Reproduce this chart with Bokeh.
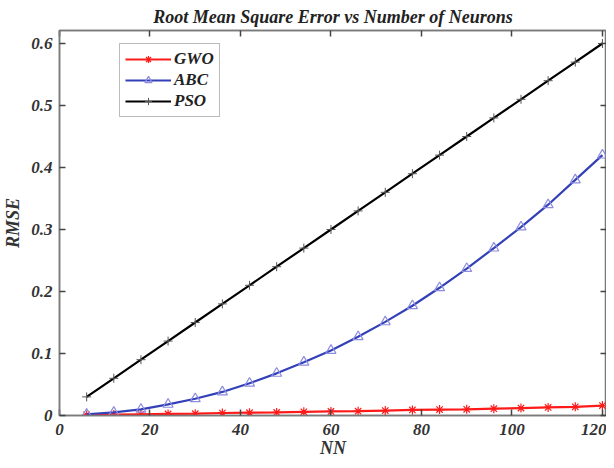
from bokeh.plotting import figure
from bokeh.models import LinearAxis, Range1d, FixedTicker, Legend, LegendItem
from bokeh.embed import file_html
from bokeh.resources import INLINE

nn = [6, 12, 18, 24, 30, 36, 42, 48, 54, 60, 66, 72, 78, 84, 90, 96, 102, 108, 114, 120]
gwo = [0.001, 0.0015, 0.002, 0.0025, 0.003, 0.004, 0.0045, 0.005, 0.006, 0.0065,
       0.007, 0.008, 0.009, 0.0095, 0.010, 0.011, 0.012, 0.013, 0.014, 0.016]
abc = [0.002, 0.005, 0.010, 0.018, 0.027, 0.038, 0.052, 0.068, 0.086, 0.105,
       0.127, 0.151, 0.177, 0.206, 0.237, 0.270, 0.304, 0.340, 0.380, 0.420]
pso = [0.03, 0.06, 0.09, 0.12, 0.15, 0.18, 0.21, 0.24, 0.27, 0.30,
       0.33, 0.36, 0.39, 0.42, 0.45, 0.48, 0.51, 0.54, 0.57, 0.60]
x_ticks = [0, 20, 40, 60, 80, 100, 120]
y_ticks = [0, 0.1, 0.2, 0.3, 0.4, 0.5, 0.6]

FONT = "Liberation Serif"
AX = "#7a7a7a"
TXT = "#333333"

p = figure(width=606, height=460, output_backend="svg", toolbar_location=None,
           x_range=Range1d(0, 120.9), y_range=Range1d(0, 0.621),
           min_border_left=0, min_border_right=0, min_border_top=0, min_border_bottom=0,
           title="Root Mean Square Error vs Number of Neurons")
p.title.text_font = FONT
p.title.text_font_style = "bold italic"
p.title.text_font_size = "18px"
p.title.align = "center"
p.title.text_color = "#222222"
p.title.offset = 0
p.title.standoff = 8

p.xgrid.visible = False
p.ygrid.visible = False
p.outline_line_color = AX
p.outline_line_width = 1.5
p.background_fill_color = "white"
p.border_fill_color = "white"

def style(ax, ticks, show_labels):
    ax.ticker = FixedTicker(ticks=ticks)
    ax.major_tick_in = 6
    ax.major_tick_out = 0
    ax.minor_tick_in = 0
    ax.minor_tick_out = 0
    ax.axis_line_color = AX
    ax.axis_line_width = 1.5
    ax.major_tick_line_color = "#444444"
    ax.major_tick_line_width = 1.5
    ax.major_label_text_font = FONT
    ax.major_label_text_font_style = "bold italic"
    ax.major_label_text_font_size = "17px" if show_labels else "0px"
    ax.major_label_text_color = TXT if show_labels else None
    ax.major_label_standoff = 0
    ax.axis_label_text_font = FONT
    ax.axis_label_text_font_style = "bold italic"
    ax.axis_label_text_font_size = "18px"
    ax.axis_label_text_color = TXT

style(p.xaxis[0], x_ticks, True)
style(p.yaxis[0], y_ticks, True)
p.xaxis[0].axis_label = "NN"
p.yaxis[0].axis_label = "RMSE"
p.xaxis[0].major_label_overrides = {0: "0", 20: "20", 40: "40", 60: "60", 80: "80", 100: "100", 120: "120"}
p.yaxis[0].major_label_overrides = {0: "0", 0.1: "0.1", 0.2: "0.2", 0.3: "0.3", 0.4: "0.4", 0.5: "0.5", 0.6: "0.6"}
p.xaxis[0].major_label_standoff = 8
p.yaxis[0].major_label_standoff = 7
p.xaxis[0].axis_label_standoff = 0
p.yaxis[0].axis_label_standoff = 5

top = LinearAxis()
style(top, x_ticks, False)
right = LinearAxis()
style(right, y_ticks, False)
p.add_layout(top, "above")
p.add_layout(right, "right")

RED = "#ff1a1a"
BLUE = "#3340b8"
TRI = "#8c8ce0"

l1 = p.line(nn, gwo, line_color=RED, line_width=2.2)
m1 = p.scatter(nn, gwo, marker="asterisk", size=9, line_color=RED, line_width=1.2)
l2 = p.line(nn, abc, line_color=BLUE, line_width=2.2)
m2 = p.scatter(nn, abc, marker="triangle", size=10, fill_color=None, line_color=TRI, line_width=1.2)
l3 = p.line(nn, pso, line_color="black", line_width=2.2)
m3 = p.scatter(nn, pso, marker="cross", size=9, line_color="#555555", line_width=1)

legend = Legend(items=[
    LegendItem(label="GWO", renderers=[l1, m1]),
    LegendItem(label="ABC", renderers=[l2, m2]),
    LegendItem(label="PSO", renderers=[l3, m3]),
], location=(60, 298))
legend.label_text_font = FONT
legend.label_text_font_style = "bold italic"
legend.label_text_font_size = "17px"
legend.label_text_color = "#222222"
legend.glyph_width = 46
legend.glyph_height = 18
legend.label_height = 18
legend.label_standoff = 3
legend.spacing = 1
legend.padding = 5
legend.margin = 0
legend.border_line_color = AX
legend.border_line_width = 1.5
legend.background_fill_alpha = 1
p.add_layout(legend, "center")

open("out.html", "w").write(file_html(p, INLINE))
